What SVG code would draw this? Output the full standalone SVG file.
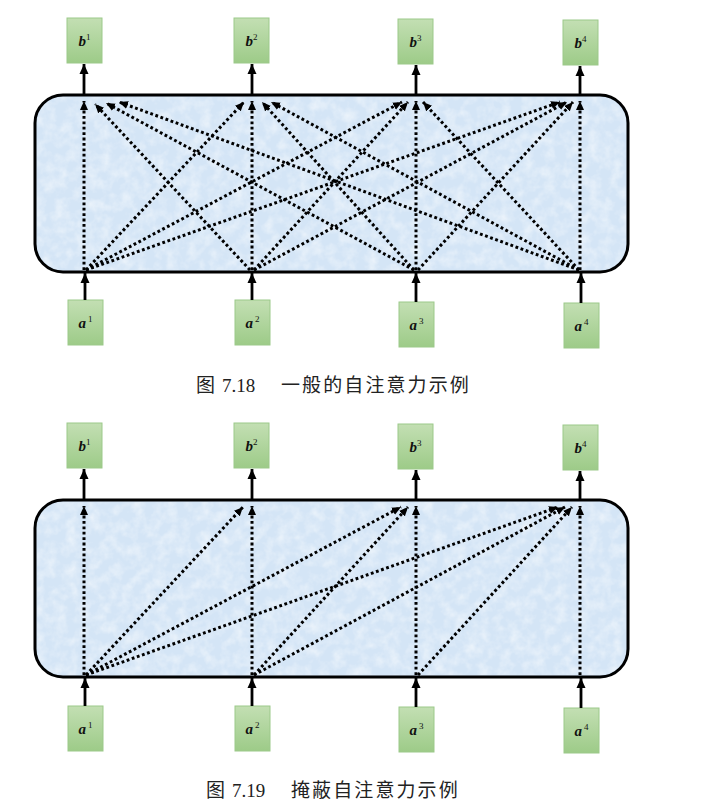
<svg xmlns="http://www.w3.org/2000/svg" width="711" height="808" viewBox="0 0 711 808">
<style>
.box{fill:url(#gr);stroke:#9cc98a;stroke-width:1}
.frame{fill:#d4e5f6;stroke:#000;stroke-width:3}
.tex{fill:#fff;filter:url(#tx);opacity:0.6}
.solid{stroke:#000;stroke-width:2.8;fill:none;marker-end:url(#ah)}
.dot{stroke:#000;stroke-width:3;fill:none;stroke-dasharray:2.8 2.6;marker-end:url(#dh)}
.v{font-family:"Liberation Serif",serif;font-weight:bold;font-style:italic;font-size:15px;fill:#111}
.s{font-family:"Liberation Serif",serif;font-size:9px;fill:#111}
.cap{font-family:"Liberation Serif","Noto Sans CJK SC",serif;font-size:19px;fill:#222}
.capc{font-family:"Noto Sans CJK SC",sans-serif;font-size:19px;fill:#222;letter-spacing:2.1px}
</style>
<defs>
<linearGradient id="gr" x1="0" y1="0" x2="0" y2="1">
<stop offset="0" stop-color="#c3dfb3"/>
<stop offset="1" stop-color="#9dcb88"/>
</linearGradient>
<filter id="tx" x="0" y="0" width="100%" height="100%">
<feTurbulence type="fractalNoise" baseFrequency="0.09" numOctaves="3" seed="4" result="n"/>
<feColorMatrix in="n" type="matrix" values="0 0 0 0 1  0 0 0 0 1  0 0 0 0 1  1.6 0 0 0 -0.6" result="w"/>
<feComposite in="w" in2="SourceGraphic" operator="in"/>
</filter>
<marker id="ah" markerUnits="userSpaceOnUse" markerWidth="10" markerHeight="10" refX="10" refY="5" orient="auto" viewBox="0 0 10 10">
<path d="M0,0.5 L10,5 L0,9.5 z" fill="#000"/>
</marker>
<marker id="dh" markerUnits="userSpaceOnUse" markerWidth="9" markerHeight="9" refX="9" refY="4.5" orient="auto" viewBox="0 0 9 9">
<path d="M0,0.5 L9,4.5 L0,8.5 z" fill="#000"/>
</marker>
</defs>
<rect width="711" height="808" fill="#fff"/>

<!-- Figure 7.18 -->
<g id="attn1">
<rect class="frame" x="35" y="95" width="593" height="177" rx="28"/>
<rect class="tex" x="37" y="97" width="589" height="173" rx="26"/>
</g>
<g id="b1_1"><rect class="box" x="67" y="18" width="35" height="45"/><text x="84.5" y="46" text-anchor="middle"><tspan class="v">b</tspan><tspan class="s" dy="-6">1</tspan></text></g>
<g id="b2_1"><rect class="box" x="234" y="18" width="35" height="45"/><text x="251.5" y="46" text-anchor="middle"><tspan class="v">b</tspan><tspan class="s" dy="-6">2</tspan></text></g>
<g id="b3_1"><rect class="box" x="398" y="19" width="35" height="45"/><text x="415.5" y="47" text-anchor="middle"><tspan class="v">b</tspan><tspan class="s" dy="-6">3</tspan></text></g>
<g id="b4_1"><rect class="box" x="563" y="20" width="35" height="45"/><text x="580.5" y="48" text-anchor="middle"><tspan class="v">b</tspan><tspan class="s" dy="-6">4</tspan></text></g>
<g id="a1_1"><rect class="box" x="68" y="300" width="35" height="45"/><text x="85.5" y="328" text-anchor="middle"><tspan class="v">a</tspan><tspan class="s" dx="2" dy="-6">1</tspan></text></g>
<g id="a2_1"><rect class="box" x="235" y="300" width="35" height="45"/><text x="252.5" y="328" text-anchor="middle"><tspan class="v">a</tspan><tspan class="s" dx="2" dy="-6">2</tspan></text></g>
<g id="a3_1"><rect class="box" x="399" y="302" width="35" height="45"/><text x="416.5" y="330" text-anchor="middle"><tspan class="v">a</tspan><tspan class="s" dx="2" dy="-6">3</tspan></text></g>
<g id="a4_1"><rect class="box" x="564" y="303" width="35" height="45"/><text x="581.5" y="331" text-anchor="middle"><tspan class="v">a</tspan><tspan class="s" dx="2" dy="-6">4</tspan></text></g>

<g id="connectors1">
<path class="solid" d="M85 300 V273"/>
<path class="solid" d="M252 300 V273"/>
<path class="solid" d="M416 302 V273"/>
<path class="solid" d="M581 303 V273"/>
<path class="solid" d="M84 95 V64"/>
<path class="solid" d="M252 95 V64"/>
<path class="solid" d="M416 95 V65"/>
<path class="solid" d="M580 95 V66"/>
<path class="dot" d="M84 270 V101"/>
<path class="dot" d="M86 270 L244 102"/>
<path class="dot" d="M86 270 L402 102"/>
<path class="dot" d="M86 270 L560 102"/>
<path class="dot" d="M250 270 L95 104"/>
<path class="dot" d="M252 270 V101"/>
<path class="dot" d="M254 270 L408 102"/>
<path class="dot" d="M254 270 L567 102"/>
<path class="dot" d="M414 270 L106 103"/>
<path class="dot" d="M414 270 L262 102"/>
<path class="dot" d="M416 270 V101"/>
<path class="dot" d="M418 270 L573 102"/>
<path class="dot" d="M579 270 L119 102"/>
<path class="dot" d="M579 270 L271 102"/>
<path class="dot" d="M579 270 L423 102"/>
<path class="dot" d="M580 270 V101"/>
</g>
<text class="cap" x="196" y="392">图</text>
<text class="cap" x="222" y="392">7.18</text>
<text class="capc" x="281" y="392">一般的自注意力示例</text>

<!-- Figure 7.19 -->
<g id="attn2">
<rect class="frame" x="35" y="500" width="593" height="177" rx="28"/>
<rect class="tex" x="37" y="502" width="589" height="173" rx="26"/>
</g>
<g id="b1_2"><rect class="box" x="67" y="423" width="35" height="45"/><text x="84.5" y="451" text-anchor="middle"><tspan class="v">b</tspan><tspan class="s" dy="-6">1</tspan></text></g>
<g id="b2_2"><rect class="box" x="234" y="423" width="35" height="45"/><text x="251.5" y="451" text-anchor="middle"><tspan class="v">b</tspan><tspan class="s" dy="-6">2</tspan></text></g>
<g id="b3_2"><rect class="box" x="398" y="424" width="35" height="45"/><text x="415.5" y="452" text-anchor="middle"><tspan class="v">b</tspan><tspan class="s" dy="-6">3</tspan></text></g>
<g id="b4_2"><rect class="box" x="563" y="425" width="35" height="45"/><text x="580.5" y="453" text-anchor="middle"><tspan class="v">b</tspan><tspan class="s" dy="-6">4</tspan></text></g>
<g id="a1_2"><rect class="box" x="68" y="706" width="35" height="45"/><text x="85.5" y="734" text-anchor="middle"><tspan class="v">a</tspan><tspan class="s" dx="2" dy="-6">1</tspan></text></g>
<g id="a2_2"><rect class="box" x="235" y="706" width="35" height="45"/><text x="252.5" y="734" text-anchor="middle"><tspan class="v">a</tspan><tspan class="s" dx="2" dy="-6">2</tspan></text></g>
<g id="a3_2"><rect class="box" x="399" y="707" width="35" height="45"/><text x="416.5" y="735" text-anchor="middle"><tspan class="v">a</tspan><tspan class="s" dx="2" dy="-6">3</tspan></text></g>
<g id="a4_2"><rect class="box" x="564" y="708" width="35" height="45"/><text x="581.5" y="736" text-anchor="middle"><tspan class="v">a</tspan><tspan class="s" dx="2" dy="-6">4</tspan></text></g>

<g id="connectors2">
<path class="solid" d="M85 706 V678"/>
<path class="solid" d="M252 706 V678"/>
<path class="solid" d="M416 707 V678"/>
<path class="solid" d="M581 708 V678"/>
<path class="solid" d="M84 500 V469"/>
<path class="solid" d="M252 500 V469"/>
<path class="solid" d="M416 500 V470"/>
<path class="solid" d="M580 500 V471"/>
<path class="dot" d="M84 675 V506"/>
<path class="dot" d="M86 675 L243 507"/>
<path class="dot" d="M86 675 L401 507"/>
<path class="dot" d="M86 675 L558 507"/>
<path class="dot" d="M252 675 V506"/>
<path class="dot" d="M254 675 L408 507"/>
<path class="dot" d="M254 675 L565 507"/>
<path class="dot" d="M416 675 V506"/>
<path class="dot" d="M418 675 L572 507"/>
<path class="dot" d="M580 675 V506"/>
</g>
<text class="cap" x="206" y="797">图</text>
<text class="cap" x="232" y="797">7.19</text>
<text class="capc" x="291" y="797">掩蔽自注意力示例</text>
</svg>
